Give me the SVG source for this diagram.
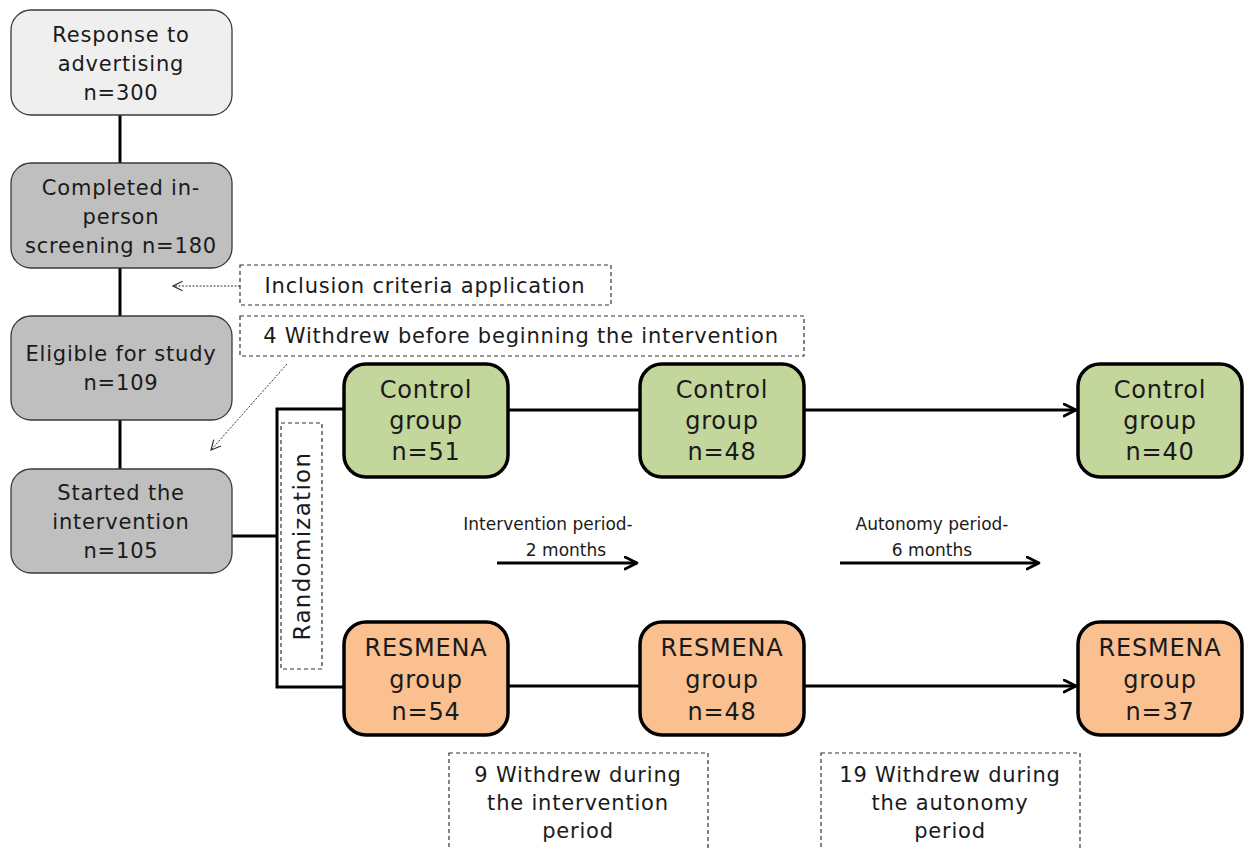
<svg xmlns="http://www.w3.org/2000/svg" width="1244" height="849" viewBox="0 0 1244 849">
<defs>
<style>
.t{font-family:"DejaVu Sans","Liberation Sans",Arial,sans-serif;fill:#1a1a1a;text-anchor:middle}
.s22{font-size:21px;letter-spacing:0.8px}
.s24{font-size:24px;letter-spacing:0.8px}
.sr{font-size:23px;letter-spacing:1.3px}
.s19{font-size:17px}
.grey{stroke:#3a3a3a;stroke-width:1.3}
.grp{stroke:#000;stroke-width:3.5}
.dash{fill:#fff;stroke:#333;stroke-width:1.2;stroke-dasharray:4 3}
.line{stroke:#000;stroke-width:3;fill:none}
.dot{stroke:#333;stroke-width:1;stroke-dasharray:2 1.5;fill:none}
</style>
<marker id="ah" viewBox="0 0 10 10" refX="9" refY="5" markerWidth="5" markerHeight="5" orient="auto" markerUnits="strokeWidth">
<path d="M1,1 L9,5 L1,9" fill="none" stroke="#000" stroke-width="1.8" stroke-linecap="round" stroke-linejoin="round"/>
</marker>
<marker id="ahs" viewBox="0 0 10 10" refX="9" refY="5" markerWidth="12" markerHeight="12" orient="auto" markerUnits="userSpaceOnUse">
<path d="M1,1 L9,5 L1,9" fill="none" stroke="#333" stroke-width="1"/>
</marker>
</defs>

<g id="connectors">
<line class="line" x1="120" y1="115" x2="120" y2="163"/>
<line class="line" x1="120" y1="268" x2="120" y2="316"/>
<line class="line" x1="120" y1="420" x2="120" y2="469"/>
<polyline class="line" points="232,536 277,536"/>
<polyline class="line" points="344,409 277,409 277,687 344,687"/>
<line class="line" x1="508" y1="410" x2="640" y2="410"/>
<line class="line" x1="508" y1="686" x2="640" y2="686"/>
<line class="line" x1="804" y1="410" x2="1076" y2="410" marker-end="url(#ah)"/>
<line class="line" x1="804" y1="686" x2="1076" y2="686" marker-end="url(#ah)"/>
<line class="line" x1="497" y1="563" x2="637" y2="563" marker-end="url(#ah)"/>
<line class="line" x1="840" y1="563" x2="1039" y2="563" marker-end="url(#ah)"/>
<line class="dot" x1="240" y1="286" x2="173" y2="286" marker-end="url(#ahs)"/>
<line class="dot" x1="287" y1="364" x2="211" y2="450" marker-end="url(#ahs)"/>
</g>

<g id="n-response">
<rect class="grey" x="11" y="10" width="221" height="105" rx="20" fill="#efefef"/>
<text class="t s22" x="121" y="42">Response to</text>
<text class="t s22" x="121" y="71">advertising</text>
<text class="t s22" x="121" y="100">n=300</text>
</g>
<g id="n-screening">
<rect class="grey" x="11" y="163" width="221" height="105" rx="20" fill="#bfbfbf"/>
<text class="t s22" x="121" y="195">Completed in-</text>
<text class="t s22" x="121" y="224">person</text>
<text class="t s22" x="121" y="253">screening n=180</text>
</g>
<g id="n-eligible">
<rect class="grey" x="11" y="316" width="221" height="104" rx="20" fill="#bfbfbf"/>
<text class="t s22" x="121" y="361">Eligible for study</text>
<text class="t s22" x="121" y="390">n=109</text>
</g>
<g id="n-started">
<rect class="grey" x="11" y="469" width="221" height="104" rx="20" fill="#bfbfbf"/>
<text class="t s22" x="121" y="500">Started the</text>
<text class="t s22" x="121" y="529">intervention</text>
<text class="t s22" x="121" y="558">n=105</text>
</g>

<g id="n-inclusion">
<rect class="dash" x="240" y="265" width="371" height="40"/>
<text class="t s22" x="425" y="293">Inclusion criteria application</text>
</g>
<g id="n-withdrew4">
<rect class="dash" x="240" y="316" width="564" height="40"/>
<text class="t s22" x="521" y="343">4 Withdrew before beginning the intervention</text>
</g>
<g id="n-random">
<rect class="dash" x="281" y="423" width="41" height="246"/>
<text class="t sr" transform="translate(310,546) rotate(-90)">Randomization</text>
</g>

<g id="n-c1">
<rect class="grp" x="344" y="364" width="164" height="113" rx="22" fill="#c3d69b"/>
<text class="t s24" x="426" y="398">Control</text>
<text class="t s24" x="426" y="429">group</text>
<text class="t s24" x="426" y="460">n=51</text>
</g>
<g id="n-c2">
<rect class="grp" x="640" y="364" width="164" height="113" rx="22" fill="#c3d69b"/>
<text class="t s24" x="722" y="398">Control</text>
<text class="t s24" x="722" y="429">group</text>
<text class="t s24" x="722" y="460">n=48</text>
</g>
<g id="n-c3">
<rect class="grp" x="1078" y="364" width="164" height="113" rx="22" fill="#c3d69b"/>
<text class="t s24" x="1160" y="398">Control</text>
<text class="t s24" x="1160" y="429">group</text>
<text class="t s24" x="1160" y="460">n=40</text>
</g>
<g id="n-r1">
<rect class="grp" x="344" y="622" width="164" height="113" rx="22" fill="#fac090"/>
<text class="t s24" x="426" y="656">RESMENA</text>
<text class="t s24" x="426" y="688">group</text>
<text class="t s24" x="426" y="720">n=54</text>
</g>
<g id="n-r2">
<rect class="grp" x="640" y="622" width="164" height="113" rx="22" fill="#fac090"/>
<text class="t s24" x="722" y="656">RESMENA</text>
<text class="t s24" x="722" y="688">group</text>
<text class="t s24" x="722" y="720">n=48</text>
</g>
<g id="n-r3">
<rect class="grp" x="1078" y="622" width="164" height="113" rx="22" fill="#fac090"/>
<text class="t s24" x="1160" y="656">RESMENA</text>
<text class="t s24" x="1160" y="688">group</text>
<text class="t s24" x="1160" y="720">n=37</text>
</g>

<g id="n-intervention-period">
<text class="t s19" x="548" y="530">Intervention period-</text>
<text class="t s19" x="566" y="556">2 months</text>
</g>
<g id="n-autonomy-period">
<text class="t s19" x="932" y="530">Autonomy period-</text>
<text class="t s19" x="932" y="556">6 months</text>
</g>

<g id="n-withdrew9">
<rect class="dash" x="449" y="753" width="259" height="110"/>
<text class="t s22" x="578" y="782">9 Withdrew during</text>
<text class="t s22" x="578" y="810">the intervention</text>
<text class="t s22" x="578" y="838">period</text>
</g>
<g id="n-withdrew19">
<rect class="dash" x="821" y="753" width="259" height="110"/>
<text class="t s22" x="950" y="782">19 Withdrew during</text>
<text class="t s22" x="950" y="810">the autonomy</text>
<text class="t s22" x="950" y="838">period</text>
</g>
</svg>
